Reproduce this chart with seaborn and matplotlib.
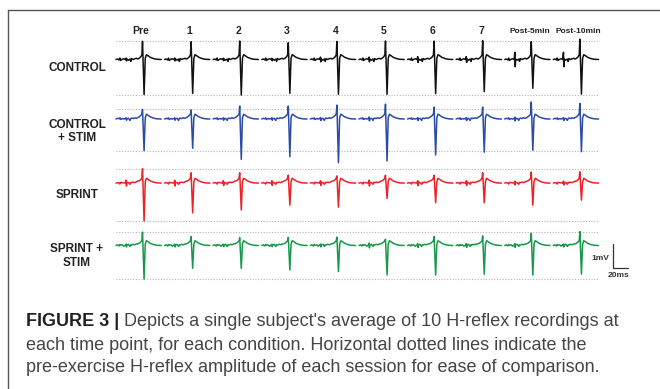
import pandas as pd
import matplotlib.pyplot as plt
import seaborn as sns
from matplotlib.lines import Line2D

# conditions / time points
conditions = ['CONTROL', 'CONTROL\n+ STIM', 'SPRINT', 'SPRINT +\nSTIM']
time_points = ['Pre', '1', '2', '3', '4', '5', '6', '7', 'Post-5min', 'Post-10min']
colors = ['#111111', '#2a4ca8', '#ec2227', '#16994b']

# H-reflex positive peak and negative trough per time point (mV)
peak_control = [0.76, 0.74, 0.77, 0.70, 0.75, 0.77, 0.77, 0.78, 0.74, 0.85]
trough_control = [1.46, 1.41, 1.48, 1.41, 1.45, 1.45, 1.42, 1.34, 1.20, 1.44]
peak_cstim = [0.40, 0.38, 0.54, 0.54, 0.58, 0.62, 0.50, 0.50, 0.71, 0.65]
trough_cstim = [1.32, 1.22, 1.68, 1.57, 1.82, 1.75, 1.50, 1.38, 1.30, 1.36]
peak_sprint = [0.60, 0.43, 0.43, 0.33, 0.30, 0.33, 0.33, 0.43, 0.46, 0.47]
trough_sprint = [1.58, 1.24, 1.12, 0.92, 1.00, 0.64, 0.82, 0.82, 0.92, 0.71]
peak_sstim = [0.56, 0.37, 0.33, 0.34, 0.35, 0.26, 0.37, 0.40, 0.51, 0.58]
trough_sstim = [1.40, 0.95, 0.95, 1.02, 1.08, 1.23, 1.23, 1.20, 1.23, 1.19]

# stimulus artifact tick size per time point (mV)
art_control = [0.06, 0.06, 0.05, 0.05, 0.10, 0.10, 0.12, 0.12, 0.30, 0.30]
art_cstim = [0.05, 0.05, 0.05, 0.05, 0.06, 0.08, 0.06, 0.06, 0.08, 0.06]
art_sprint = [0.12, 0.12, 0.10, 0.10, 0.10, 0.12, 0.10, 0.10, 0.08, 0.08]
art_sstim = [0.06, 0.06, 0.05, 0.05, 0.06, 0.10, 0.08, 0.08, 0.08, 0.06]

# waveform shape of one sweep (ms from sweep onset)
t_pre = [0, 2, 4, 5, 6, 8, 10, 12, 13, 13.4, 14, 16, 18, 19, 20, 22, 24, 26, 28, 30, 32, 33.2]
noise_control = [0, .02, -.02, .06, -.04, .01, .03, 0, 0, 0, .02, -.03, .02, -.08, .04, 0, .03, .05, .02, .06, .12, .2]
noise_cstim = [0, .03, .01, .05, -.02, .02, 0, .02, 0, 0, .01, .03, -.06, .02, .04, .02, .05, .03, .06, .1, .16, .22]
noise_sprint = [0, .02, .0, -.04, .03, .02, .01, 0, 0, 0, .03, .02, -.05, .03, .02, .04, .02, .05, .08, .1, .15, .22]
noise_sstim = [0, .03, -.02, .04, .01, .03, -.03, .02, 0, 0, .02, .05, -.04, .03, .02, .05, .03, .06, .07, .1, .16, .2]
t_post = [34, 36, 37.5, 39, 41, 44, 48, 52, 58]
tail = [0.05, 0.2, 0.16, 0.09, 0.04, 0.01, 0.0]

peaks = [peak_control, peak_cstim, peak_sprint, peak_sstim]
troughs = [trough_control, trough_cstim, trough_sprint, trough_sstim]
arts = [art_control, art_cstim, art_sprint, art_sstim]
noises = [noise_control, noise_cstim, noise_sprint, noise_sstim]

# layout
row_offset = [0, -2.48, -5.15, -7.75]
sweep_step = 62.3
px_ms = 0.78
px_mv = 24.0

rows = []
for c, cond in enumerate(conditions):
    for k in range(len(time_points)):
        v_pre = list(noises[c])
        v_pre[8] += arts[c][k]
        v_pre[9] -= arts[c][k]
        vals = v_pre + [peaks[c][k], -troughs[c][k]] + tail
        ts = t_pre + t_post
        for t, v in zip(ts, vals):
            rows.append({'time': k * sweep_step + t, 'mV': v + row_offset[c],
                         'condition': cond, 'sweep': k})
df = pd.DataFrame(rows)

sns.set_style('white')
fig = plt.figure(figsize=(6.6, 3.89), dpi=100)
W, H = 660, 389
ax = fig.add_axes([100 / W, (H - 290) / H, 540 / W, 260 / H])
x0 = -16 / px_ms
ax.set_xlim(x0, x0 + 540 / px_ms)
ytop = (59.5 - 30) / px_mv
ax.set_ylim(ytop - 260 / px_mv, ytop)
ax.axis('off')

sns.lineplot(data=df, x='time', y='mV', hue='condition', units='sweep', estimator=None,
             palette=dict(zip(conditions, colors)), legend=False, lw=1.1, ax=ax)

# dotted lines at pre-exercise amplitude
end_t = (len(time_points) - 1) * sweep_step + t_post[-1]
for c in range(len(conditions)):
    for yv in (row_offset[c] + peaks[c][0], row_offset[c] - troughs[c][0]):
        ax.hlines(yv, 0, end_t, colors='#b5b5b5', linestyles=(0, (1, 1.5)), lw=0.8, zorder=0)

fam = ['Liberation Sans', 'DejaVu Sans']
# column labels
for k, lab in enumerate(time_points):
    fs = 6 if lab.startswith('Post') else 7.5
    ax.text(k * sweep_step + 32, ytop - 0.05, lab, ha='center', va='center',
            fontsize=fs, fontweight='bold', family=fam, color='#222222', clip_on=False)

# row labels
label_y = [67.7, 131.7, 195, 256]
for c, cond in enumerate(conditions):
    ax.text(x0 - (100 - 77) / px_ms, -(label_y[c] - 59.5) / px_mv, cond, ha='center',
            va='center', fontsize=8.5, fontweight='bold', family=fam, color='#222222',
            linespacing=1.15, clip_on=False)

# scale bar 1 mV / 20 ms
bx = (612.7 - 116) / px_ms
by = -(268.3 - 59.5) / px_mv
ax.plot([bx, bx, bx + 20], [by + 1, by, by], color='#333333', lw=0.9, clip_on=False)
ax.text(bx - 4, by + 0.42, '1mV', ha='right', va='center', fontsize=6, fontweight='bold',
        family=fam, color='#333333')
ax.text(bx + 8, by - 0.28, '20ms', ha='center', va='center', fontsize=6, fontweight='bold',
        family=fam, color='#333333')

# frame
fig.add_artist(Line2D([8 / W, 1], [1 - 10 / H] * 2, transform=fig.transFigure, color='#555555', lw=1.0))
fig.add_artist(Line2D([8 / W] * 2, [0, 1 - 10 / H], transform=fig.transFigure, color='#555555', lw=1.0))

# caption
cap_fs = 13
cap_col = '#454545'
t_bold = fig.text(26 / W, 1 - 326.5 / H, 'FIGURE 3 |', fontsize=cap_fs, fontweight='bold',
                  family=fam, color='#222222', va='baseline')
ax.annotate(" Depicts a single subject's average of 10 H-reflex recordings at", xy=(1, 0),
            xycoords=t_bold, va='bottom', ha='left', fontsize=cap_fs, family=fam, color=cap_col)
fig.text(26 / W, 1 - 349.5 / H, 'each time point, for each condition. Horizontal dotted lines indicate the',
         fontsize=cap_fs, family=fam, color=cap_col, va='baseline')
fig.text(26 / W, 1 - 372.5 / H, 'pre-exercise H-reflex amplitude of each session for ease of comparison.',
         fontsize=cap_fs, family=fam, color=cap_col, va='baseline')

fig.savefig('out.png', dpi=100)
